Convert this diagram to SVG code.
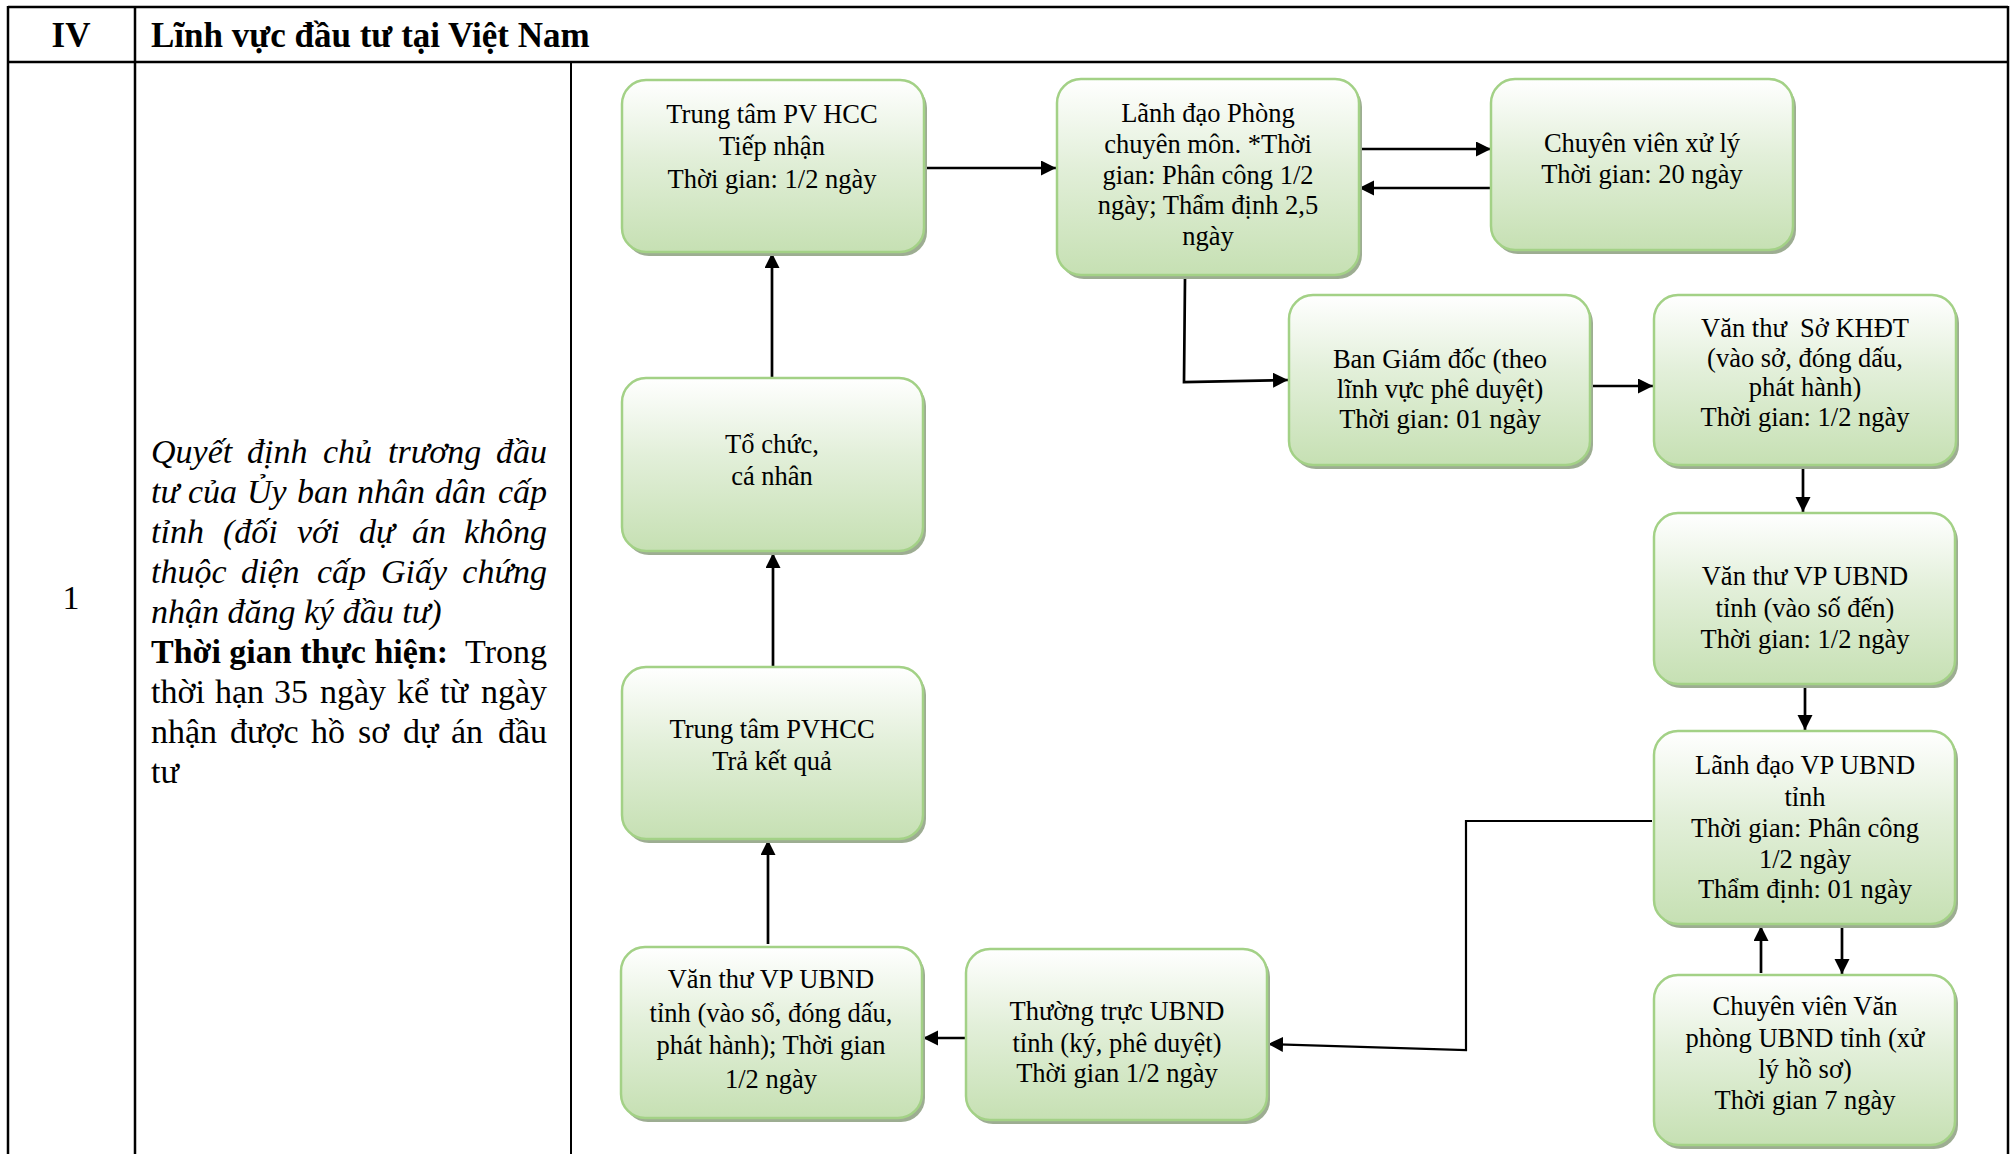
<svg xmlns="http://www.w3.org/2000/svg" width="2013" height="1154" viewBox="0 0 2013 1154">
<style>
.tbl{stroke:#000;stroke-width:2.5;fill:none}
.tbl2{stroke:#000;stroke-width:2;fill:none}
.box{fill:url(#g);stroke:#a3d186;stroke-width:2.5}
.sh{fill:#9dad92}
.bt{font-family:"Liberation Serif","Times New Roman",serif;font-size:26.5px;fill:#000;text-anchor:middle}
.lt{font-family:"Liberation Serif","Times New Roman",serif;font-size:34px;fill:#000}
.hd{font-size:35px}
.it{font-style:italic}
.b{font-weight:bold}
.conA{stroke:#000;stroke-width:2.7;fill:none;marker-end:url(#ah)}
</style>
<defs>
<linearGradient id="g" x1="0" y1="0" x2="0" y2="1">
<stop offset="0" stop-color="#ffffff"/>
<stop offset="0.45" stop-color="#e2efd9"/>
<stop offset="1" stop-color="#c6e0b3"/>
</linearGradient>
<marker id="ah" markerUnits="userSpaceOnUse" markerWidth="16" markerHeight="16" refX="15" refY="7.5" orient="auto">
<path d="M0,0 L15,7.5 L0,15 z" fill="#000"/>
</marker>
</defs>
<rect width="2013" height="1154" fill="#fff"/>
<g id="table">
<line class="tbl" x1="8" y1="7" x2="2008" y2="7"/>
<line class="tbl" x1="8" y1="62" x2="2008" y2="62"/>
<line class="tbl" x1="8" y1="6" x2="8" y2="1154"/>
<line class="tbl" x1="2008" y1="6" x2="2008" y2="1154"/>
<line class="tbl" x1="135" y1="6" x2="135" y2="1154"/>
<line class="tbl2" x1="571" y1="62" x2="571" y2="1154"/>
<text class="lt b hd" x="71" y="47" text-anchor="middle">IV</text>
<text class="lt b hd" x="151" y="47">Lĩnh vực đầu tư tại Việt Nam</text>
<text class="lt" x="71" y="609" text-anchor="middle">1</text>
</g>
<g id="description" class="lt">
<text class="it" y="463"><tspan x="151">Quyết</tspan><tspan x="247">định</tspan><tspan x="323">chủ</tspan><tspan x="388">trương</tspan><tspan x="547" text-anchor="end">đầu</tspan></text>
<text class="it" y="503"><tspan x="151">tư</tspan><tspan x="188">của</tspan><tspan x="247">Ủy</tspan><tspan x="297">ban</tspan><tspan x="357">nhân</tspan><tspan x="435">dân</tspan><tspan x="547" text-anchor="end">cấp</tspan></text>
<text class="it" y="543"><tspan x="151">tỉnh</tspan><tspan x="223">(đối</tspan><tspan x="297">với</tspan><tspan x="359">dự</tspan><tspan x="412">án</tspan><tspan x="547" text-anchor="end">không</tspan></text>
<text class="it" y="583"><tspan x="151">thuộc</tspan><tspan x="241">diện</tspan><tspan x="317">cấp</tspan><tspan x="381">Giấy</tspan><tspan x="547" text-anchor="end">chứng</tspan></text>
<text class="it" x="151" y="623">nhận đăng ký đầu tư)</text>
<text y="663"><tspan x="151" class="b">Thời gian thực hiện:</tspan><tspan x="547" text-anchor="end">Trong</tspan></text>
<text y="703"><tspan x="151">thời</tspan><tspan x="215">hạn</tspan><tspan x="274">35</tspan><tspan x="320">ngày</tspan><tspan x="397">kể</tspan><tspan x="440">từ</tspan><tspan x="547" text-anchor="end">ngày</tspan></text>
<text y="743"><tspan x="151">nhận</tspan><tspan x="230">được</tspan><tspan x="311">hồ</tspan><tspan x="358">sơ</tspan><tspan x="403">dự</tspan><tspan x="451">án</tspan><tspan x="547" text-anchor="end">đầu</tspan></text>
<text x="151" y="783">tư</text>
</g>
<g id="connectors">
<line class="conA" x1="772" y1="378" x2="772" y2="253"/>
<line class="conA" x1="773" y1="666" x2="773" y2="553"/>
<line class="conA" x1="768" y1="944" x2="768" y2="840"/>
<line class="conA" x1="925" y1="168" x2="1056" y2="168"/>
<line class="conA" x1="1361" y1="149" x2="1491" y2="149"/>
<line class="conA" x1="1491" y1="188" x2="1359" y2="188"/>
<polyline class="conA" points="1185,279 1184,382 1288,380"/>
<line class="conA" x1="1591" y1="386" x2="1653" y2="386"/>
<line class="conA" x1="1803" y1="468" x2="1803" y2="512"/>
<line class="conA" x1="1805" y1="685" x2="1805" y2="730"/>
<line class="conA" x1="1842" y1="926" x2="1842" y2="974"/>
<line class="conA" x1="1761" y1="973" x2="1761" y2="926"/>
<polyline class="conA" style="stroke-width:2.2" points="1652,821 1466,821 1466,1050 1268,1044"/>
<line class="conA" x1="966" y1="1038" x2="923" y2="1038"/>
</g>
<g id="nA">
<rect class="sh" x="625" y="84" width="302" height="172" rx="24"/>
<rect class="box" x="622" y="80" width="302" height="172" rx="24"/>
<text class="bt"><tspan x="772" y="123">Trung tâm PV HCC</tspan><tspan x="772" y="155">Tiếp nhận</tspan><tspan x="772" y="188">Thời gian: 1/2 ngày</tspan></text>
</g>
<g id="nB">
<rect class="sh" x="1060" y="83" width="302" height="196" rx="24"/>
<rect class="box" x="1057" y="79" width="302" height="196" rx="24"/>
<text class="bt"><tspan x="1208" y="122">Lãnh đạo Phòng</tspan><tspan x="1208" y="153">chuyên môn. *Thời</tspan><tspan x="1208" y="184">gian: Phân công 1/2</tspan><tspan x="1208" y="214">ngày; Thẩm định 2,5</tspan><tspan x="1208" y="245">ngày</tspan></text>
</g>
<g id="nC">
<rect class="sh" x="1494" y="83" width="302" height="171" rx="24"/>
<rect class="box" x="1491" y="79" width="302" height="171" rx="24"/>
<text class="bt"><tspan x="1642" y="152">Chuyên viên xử lý</tspan><tspan x="1642" y="183">Thời gian: 20 ngày</tspan></text>
</g>
<g id="nD">
<rect class="sh" x="1292" y="299" width="301" height="170" rx="24"/>
<rect class="box" x="1289" y="295" width="301" height="170" rx="24"/>
<text class="bt"><tspan x="1440" y="368">Ban Giám đốc (theo</tspan><tspan x="1440" y="398">lĩnh vực phê duyệt)</tspan><tspan x="1440" y="428">Thời gian: 01 ngày</tspan></text>
</g>
<g id="nE">
<rect class="sh" x="1657" y="299" width="302" height="170" rx="24"/>
<rect class="box" x="1654" y="295" width="302" height="170" rx="24"/>
<text class="bt" xml:space="preserve"><tspan x="1805" y="337">Văn thư  Sở KHĐT</tspan><tspan x="1805" y="367">(vào sở, đóng dấu,</tspan><tspan x="1805" y="396">phát hành)</tspan><tspan x="1805" y="426">Thời gian: 1/2 ngày</tspan></text>
</g>
<g id="nF">
<rect class="sh" x="1657" y="517" width="301" height="171" rx="24"/>
<rect class="box" x="1654" y="513" width="301" height="171" rx="24"/>
<text class="bt"><tspan x="1805" y="585">Văn thư VP UBND</tspan><tspan x="1805" y="617">tỉnh (vào số đến)</tspan><tspan x="1805" y="648">Thời gian: 1/2 ngày</tspan></text>
</g>
<g id="nG">
<rect class="sh" x="1657" y="735" width="301" height="193" rx="24"/>
<rect class="box" x="1654" y="731" width="301" height="193" rx="24"/>
<text class="bt"><tspan x="1805" y="774">Lãnh đạo VP UBND</tspan><tspan x="1805" y="806">tỉnh</tspan><tspan x="1805" y="837">Thời gian: Phân công</tspan><tspan x="1805" y="868">1/2 ngày</tspan><tspan x="1805" y="898">Thẩm định: 01 ngày</tspan></text>
</g>
<g id="nH">
<rect class="sh" x="1657" y="979" width="301" height="170" rx="24"/>
<rect class="box" x="1654" y="975" width="301" height="170" rx="24"/>
<text class="bt"><tspan x="1805" y="1015">Chuyên viên Văn</tspan><tspan x="1805" y="1047">phòng UBND tỉnh (xử</tspan><tspan x="1805" y="1078">lý hồ sơ)</tspan><tspan x="1805" y="1109">Thời gian 7 ngày</tspan></text>
</g>
<g id="nI">
<rect class="sh" x="969" y="953" width="301" height="171" rx="24"/>
<rect class="box" x="966" y="949" width="301" height="171" rx="24"/>
<text class="bt"><tspan x="1117" y="1020">Thường trực UBND</tspan><tspan x="1117" y="1052">tỉnh (ký, phê duyệt)</tspan><tspan x="1117" y="1082">Thời gian 1/2 ngày</tspan></text>
</g>
<g id="nJ">
<rect class="sh" x="624" y="951" width="301" height="171" rx="24"/>
<rect class="box" x="621" y="947" width="301" height="171" rx="24"/>
<text class="bt"><tspan x="771" y="988">Văn thư VP UBND</tspan><tspan x="771" y="1022">tỉnh (vào sổ, đóng dấu,</tspan><tspan x="771" y="1054">phát hành); Thời gian</tspan><tspan x="771" y="1088">1/2 ngày</tspan></text>
</g>
<g id="nK">
<rect class="sh" x="625" y="671" width="301" height="172" rx="24"/>
<rect class="box" x="622" y="667" width="301" height="172" rx="24"/>
<text class="bt"><tspan x="772" y="738">Trung tâm PVHCC</tspan><tspan x="772" y="770">Trả kết quả</tspan></text>
</g>
<g id="nL">
<rect class="sh" x="625" y="382" width="301" height="173" rx="24"/>
<rect class="box" x="622" y="378" width="301" height="173" rx="24"/>
<text class="bt"><tspan x="772" y="453">Tổ chức,</tspan><tspan x="772" y="485">cá nhân</tspan></text>
</g>
</svg>
